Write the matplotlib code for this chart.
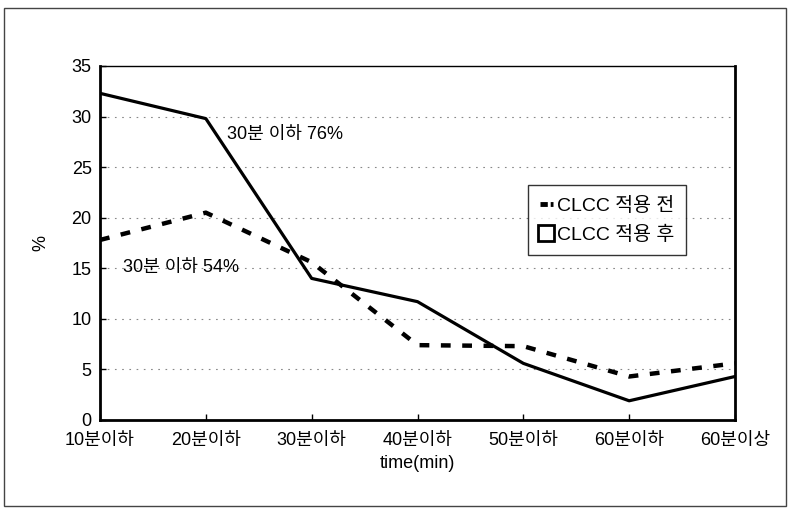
import matplotlib.pyplot as plt
from matplotlib.lines import Line2D
from matplotlib.patches import Rectangle

plt.rcParams['font.family'] = ['Liberation Sans', 'Noto Sans CJK KR', 'DejaVu Sans']

# 데이터
categories = ['10분이하', '20분이하', '30분이하', '40분이하', '50분이하', '60분이하', '60분이상']
before = [17.8, 20.5, 15.6, 7.4, 7.3, 4.3, 5.6]   # CLCC 적용 전
after = [32.3, 29.8, 14.0, 11.7, 5.6, 1.9, 4.3]   # CLCC 적용 후
yticks = [0, 5, 10, 15, 20, 25, 30, 35]

fig = plt.figure(figsize=(7.9, 5.09), dpi=100)
ax = fig.add_axes([100 / 790, 1 - 420 / 509, 635 / 790, 354 / 509])

x = list(range(len(categories)))
ax.plot(x, before, color='black', lw=3.2, ls=(0, (2.2, 2.6)), solid_capstyle='butt')
ax.plot(x, after, color='black', lw=2.3)

ax.set_xlim(0, len(categories) - 1)
ax.set_ylim(0, 35)
ax.set_yticks(yticks)
ax.set_xticks(x)
ax.set_xticklabels(categories)
ax.tick_params(axis='both', direction='in', length=4, width=1, labelsize=13)
ax.tick_params(axis='x', pad=9)
ax.tick_params(axis='y', pad=6)

for y in yticks[1:-1]:
    ax.axhline(y, color='#888888', lw=0.8, ls=(0, (1.5, 5)), zorder=0)

for side in ['left', 'bottom', 'right']:
    ax.spines[side].set_linewidth(2)
ax.spines['top'].set_linewidth(1)

ax.set_ylabel('%', fontsize=13, labelpad=16)
ax.set_xlabel('time(min)', fontsize=13, labelpad=4)

ax.text(1.2, 28.2, '30분 이하 76%', fontsize=13, va='center', ha='left')
ax.text(0.22, 15.1, '30분 이하 54%', fontsize=13, va='center', ha='left')

handles = [
    Line2D([0], [0], color='black', lw=3.5, ls=(0, (1.5, 0.6))),
    Line2D([0], [0], marker='s', color='white', markerfacecolor='white',
           markeredgecolor='black', markeredgewidth=2, markersize=11, lw=0),
]
leg = ax.legend(handles, ['CLCC 적용 전', 'CLCC 적용 후'], loc='upper left',
                bbox_to_anchor=(428 / 635, (420 - 185) / 354), fontsize=14,
                frameon=True, fancybox=False, edgecolor='black', handlelength=0.7,
                handletextpad=0.2, borderpad=0.6, labelspacing=0.55, borderaxespad=0)
leg.get_frame().set_linewidth(1)

# 바깥 테두리
fig.patches.append(Rectangle((4 / 790, 1 - 506 / 509), 782 / 790, 498 / 509,
                             transform=fig.transFigure, fill=False,
                             edgecolor='#444444', lw=1))

plt.savefig('out.png', dpi=100)
